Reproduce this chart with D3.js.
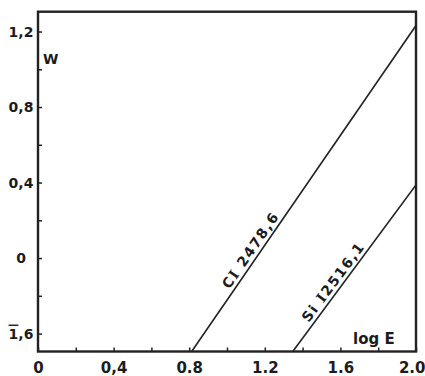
<!DOCTYPE html>
<html>
  <head>
    <script src="https://cdnjs.cloudflare.com/ajax/libs/d3/7.8.5/d3.min.js"></script>
<style>
  body {
      margin: 0;
      background: #fff;
  }
  text {
      font-family: "DejaVu Sans", sans-serif;
      font-weight: bold;
      fill: #1c1c1c;
  }
  .roman {
      font-family: "DejaVu Serif", serif;
  }
</style>
  </head>
  <body>
    <div id="vis"></div>

    <script type="text/javascript">

        var w = 425;
        var h = 376;

        // axis ranges (log E horizontally, log W vertically)
        var xDomain = [0, 2.0];
        var yDomain = [-0.495, 1.305];

        var xTickValues = [0, 0.2, 0.4, 0.6, 0.8, 1.0, 1.2, 1.4, 1.6, 1.8, 2.0];
        var xLabelValues = [0, 0.4, 0.8, 1.2, 1.6, 2.0];
        var xLabelText = ["0", "0,4", "0.8", "1.2", "1.6", "2.0"];

        var yTickValues = [-0.4, -0.2, 0, 0.2, 0.4, 0.6, 0.8, 1.0, 1.2];
        var yLabelValues = [-0.4, 0, 0.4, 0.8, 1.2];
        // bar-notation: the first character of a "bar" label gets an overline
        var yLabelText = ["1,6", "0", "0,4", "0,8", "1,2"];
        var yLabelBar = [true, false, false, false, false];

        // curve of growth lines, read at the frame edges
        var ciLine = [{e: 0.813, w: -0.495}, {e: 2.0, w: 1.232}];
        var siLine = [{e: 1.348, w: -0.495}, {e: 2.0, w: 0.387}];

        var lineLabels = [
            {pts: ciLine, start: 1.03, head: "C", roman: "I", tail: " 2478,6"},
            {pts: siLine, start: 1.45, head: "Si ", roman: "I", tail: "2516,1"}
        ];

        const svg = d3.select("#vis")
            .append("svg")
            .attr("width", w)
            .attr("height", h)
            .attr("viewBox", [0, 0, w, h]);

        var xScale = d3.scaleLinear().domain(xDomain).range([38, 416]);
        var yScale = d3.scaleLinear().domain(yDomain).range([351.5, 11.7]);

        svg.append("clipPath")
            .attr("id", "plotArea")
            .append("rect")
            .attr("x", xScale(xDomain[0]))
            .attr("y", yScale(yDomain[1]))
            .attr("width", xScale(xDomain[1]) - xScale(xDomain[0]))
            .attr("height", yScale(yDomain[0]) - yScale(yDomain[1]));

        function findLabel(values, d) {
            return values.findIndex(v => Math.abs(v - d) < 1e-9);
        }

        // axes: inward ticks, labels only on some of them
        var xAxis = d3.axisBottom(xScale)
            .tickValues(xTickValues)
            .tickSize(-4)
            .tickPadding(11)
            .tickFormat(d => {
                var i = findLabel(xLabelValues, d);
                return i < 0 ? "" : xLabelText[i];
            });

        var yAxis = d3.axisLeft(yScale)
            .tickValues(yTickValues)
            .tickSize(-4)
            .tickPadding(17)
            .tickFormat("");

        var gx = svg.append("g")
            .attr("transform", "translate(0," + yScale(yDomain[0]) + ")")
            .call(xAxis);
        gx.select(".domain").remove();
        gx.selectAll("line").attr("stroke", "#222").attr("stroke-width", 1.5);
        gx.selectAll("text")
            .style("font-size", "15px")
            .attr("fill", "#1c1c1c");
        // last label sits on the window edge: keep it inside
        gx.selectAll("text")
            .filter(d => d === xDomain[1])
            .attr("text-anchor", "end")
            .attr("x", 9);

        var gy = svg.append("g")
            .attr("transform", "translate(" + xScale(xDomain[0]) + ",0)")
            .call(yAxis);
        gy.select(".domain").remove();
        gy.selectAll("line").attr("stroke", "#222").attr("stroke-width", 1.5);

        gy.selectAll("text")
            .each(function(d) {
                var i = findLabel(yLabelValues, d);
                var t = d3.select(this)
                    .attr("text-anchor", "middle")
                    .style("font-size", "14px")
                    .attr("fill", "#1c1c1c")
                    .text(null);
                if (i < 0) return;
                var s = yLabelText[i];
                if (yLabelBar[i]) {
                    t.append("tspan").style("text-decoration", "overline").text(s.charAt(0));
                    t.append("tspan").text(s.slice(1));
                } else {
                    t.text(s);
                }
            });

        // frame
        svg.append("rect")
            .attr("x", xScale(xDomain[0]))
            .attr("y", yScale(yDomain[1]))
            .attr("width", xScale(xDomain[1]) - xScale(xDomain[0]))
            .attr("height", yScale(yDomain[0]) - yScale(yDomain[1]))
            .attr("fill", "none")
            .attr("stroke", "#222")
            .attr("stroke-width", 2.4);

        var line = d3.line()
            .x(d => xScale(d.e))
            .y(d => yScale(d.w));

        svg.append("g")
            .attr("clip-path", "url(#plotArea)")
            .selectAll("path")
            .data([ciLine, siLine])
            .join("path")
            .attr("d", line)
            .attr("fill", "none")
            .attr("stroke", "#222")
            .attr("stroke-width", 1.6);

        // labels written along the lines
        lineLabels.forEach(lab => {
            var a = lab.pts[0], b = lab.pts[1];
            var t = (lab.start - a.e) / (b.e - a.e);
            var px = xScale(lab.start);
            var py = yScale(a.w + t * (b.w - a.w));
            var ang = Math.atan2(yScale(b.w) - yScale(a.w), xScale(b.e) - xScale(a.e)) * 180 / Math.PI;
            var txt = svg.append("text")
                .attr("transform", "translate(" + px + "," + py + ") rotate(" + ang + ")")
                .attr("y", -4)
                .style("font-size", "14px")
                .style("letter-spacing", "1.5px");
            txt.append("tspan").text(lab.head);
            txt.append("tspan").attr("class", "roman").text(lab.roman);
            txt.append("tspan").text(lab.tail);
        });

        svg.append("text")
            .attr("x", 43)
            .attr("y", 64)
            .style("font-size", "14px")
            .text("W");

        svg.append("text")
            .attr("x", 353)
            .attr("y", 344)
            .style("font-size", "15px")
            .text("log E");

    </script>
  </body>
</html>
